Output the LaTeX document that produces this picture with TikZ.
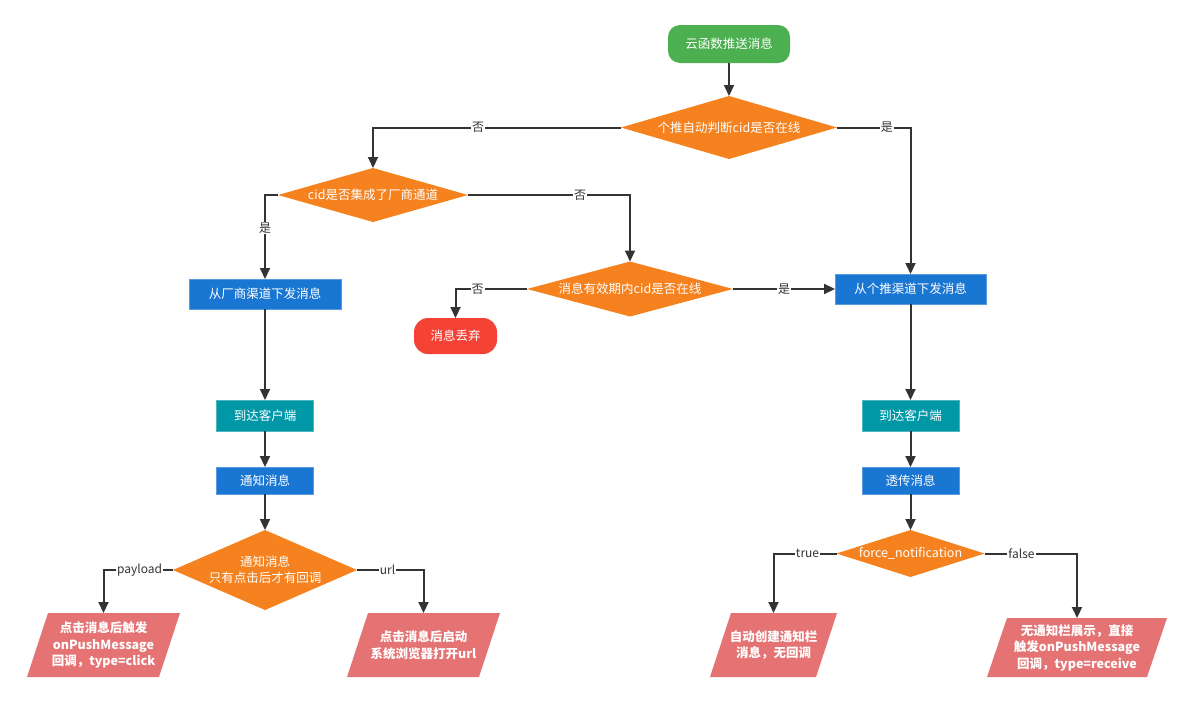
\documentclass[tikz,border=0pt]{standalone}
\usepackage{fontspec}
\setmainfont{Noto Sans CJK SC}
\usetikzlibrary{shapes.geometric,arrows.meta}
\pgfdeclarelayer{bg}
\pgfsetlayers{bg,main}
\definecolor{cgreen}{HTML}{4CAF50}
\definecolor{corange}{HTML}{F5821F}
\definecolor{cblue}{HTML}{1976D2}
\definecolor{cblueedge}{HTML}{5A9BE0}
\definecolor{cteal}{HTML}{0097A7}
\definecolor{ctealedge}{HTML}{4DB6C0}
\definecolor{cred}{HTML}{F44336}
\definecolor{cpink}{HTML}{E57373}
\definecolor{cline}{HTML}{333333}
\begin{document}
\begin{tikzpicture}[x=1pt,y=-1pt,
  font=\fontsize{12.5}{16}\selectfont,
  base/.style={inner sep=0pt,outer sep=0pt,text=white,align=center},
  term/.style={base,rectangle,rounded corners=12pt},
  bbox/.style={base,rectangle,fill=cblue,draw=cblueedge,line width=0.6pt},
  tbox/.style={base,rectangle,fill=cteal,draw=ctealedge,line width=0.6pt},
  dia/.style={base,diamond,fill=corange},
  paratext/.style={base,rectangle,font=\fontsize{12.5}{16.5}\selectfont\bfseries},
  arr/.style={draw=cline,line width=2pt,-{Triangle[length=11pt,width=10pt]}},
  lbl/.style={fill=white,text=cline,inner sep=1pt,font=\fontsize{12}{14}\selectfont}
]
\useasboundingbox (0,0) rectangle (1193,704);

% nodes
\node[term,fill=cgreen,minimum width=122pt,minimum height=38pt] (start) at (729,44) {云函数推送消息};
\node[dia,minimum width=216pt,minimum height=63pt,aspect=3.43] (d1) at (729,127.5) {个推自动判断cid是否在线};
\node[dia,minimum width=190pt,minimum height=54pt,aspect=3.5] (d2) at (373,195) {cid是否集成了厂商通道};
\node[dia,minimum width=206pt,minimum height=55pt,aspect=3.75] (d3) at (630,289) {消息有效期内cid是否在线};
\node[bbox,minimum width=152pt,minimum height=30pt] (b1) at (265,294) {从厂商渠道下发消息};
\node[bbox,minimum width=151pt,minimum height=30pt] (b2) at (910.5,289) {从个推渠道下发消息};
\node[term,fill=cred,minimum width=83pt,minimum height=36pt,rounded corners=14pt] (drop) at (455.5,336) {消息丢弃};

\node[tbox,minimum width=97pt,minimum height=31pt] (c1) at (265,415.5) {到达客户端};
\node[bbox,minimum width=97pt,minimum height=27pt] (n1) at (265,480.5) {通知消息};
\node[dia,minimum width=184pt,minimum height=80pt,aspect=2.3] (d4) at (265,570) {通知消息\\只有点击后才有回调};

\node[tbox,minimum width=97pt,minimum height=31pt] (c2) at (910.5,415.5) {到达客户端};
\node[bbox,minimum width=97pt,minimum height=27pt] (n2) at (910.5,480.5) {透传消息};
\node[dia,minimum width=148pt,minimum height=47pt,aspect=3.15] (d5) at (910.5,553.5) {force\_notification};

\node[paratext,minimum width=132pt,minimum height=64pt] (p1) at (103.5,645) {点击消息后触发\\onPushMessage\\回调，type=click};
\node[paratext,minimum width=132pt,minimum height=64pt] (p2) at (423.5,645) {点击消息后启动\\系统浏览器打开url};
\node[paratext,minimum width=106pt,minimum height=64pt] (p3) at (773.5,645) {自动创建通知栏\\消息，无回调};
\node[paratext,minimum width=160pt,minimum height=59pt] (p4) at (1077,647.5) {无通知栏展示，直接\\触发onPushMessage\\回调，type=receive};

\begin{pgfonlayer}{bg}
  \foreach \p/\s in {p1/10.5,p2/10.5,p3/10.5,p4/10}{
    \fill[cpink] ([xshift=\s pt]\p.north west) -- ([xshift=\s pt]\p.north east)
      -- ([xshift=-\s pt]\p.south east) -- ([xshift=-\s pt]\p.south west) -- cycle;
  }
\end{pgfonlayer}

% connectors
\draw[arr] (start) -- (d1);
\draw[arr] (d1.west) -| node[lbl,pos=0.288] {否} (d2.north);
\draw[arr] (d1.east) -| node[lbl,pos=0.34] {是} (b2.north);
\draw[arr] (d2.west) -| node[lbl,pos=0.696] {是} (b1.north);
\draw[arr] (d2.east) -| node[lbl,pos=0.346] {否} (d3.north);
\draw[arr] (d3.west) -| node[lbl,pos=0.345] {否} (drop.north);
\draw[arr] (d3.east) -- node[lbl] {是} (b2.west);

\draw[arr] (b1) -- (c1);
\draw[arr] (c1) -- (n1);
\draw[arr] (n1) -- (d4);
\draw[arr] (d4.west) -| node[lbl,pos=0.24] {payload} (p1.north);
\draw[arr] (d4.east) -| node[lbl,pos=0.23] {url} (p2.north);

\draw[arr] (b2) -- (c2);
\draw[arr] (c2) -- (n2);
\draw[arr] (n2) -- (d5);
\draw[arr] (d5.west) -| node[lbl,pos=0.23] {true} (p3.north);
\draw[arr] (d5.east) -| node[lbl,pos=0.2] {false} (p4.north);
\end{tikzpicture}
\end{document}
